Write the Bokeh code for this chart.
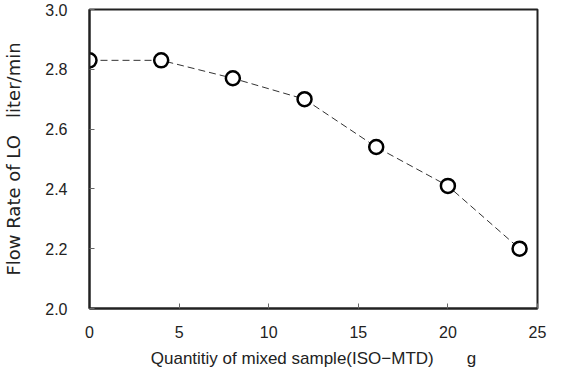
from bokeh.plotting import figure
from bokeh.models import Range1d, FixedTicker, CustomJSTickFormatter
from bokeh.embed import file_html
from bokeh.resources import INLINE

quantity = [0, 4, 8, 12, 16, 20, 24]
flow_rate = [2.83, 2.83, 2.77, 2.70, 2.54, 2.41, 2.20]
x_ticks = [0, 5, 10, 15, 20, 25]
y_ticks = [2.0, 2.2, 2.4, 2.6, 2.8, 3.0]
x_title = "Quantitiy of mixed sample(ISO\u2212MTD)" + "\u00a0" * 7 + "g"
y_title = "Flow Rate of LO" + "\u00a0" * 3 + "liter/min"

FONT = "Liberation Sans"

p = figure(width=548, height=371, output_backend="svg", toolbar_location=None,
           x_range=Range1d(0, 25), y_range=Range1d(2.0, 3.0),
           min_border_left=87, min_border_right=11, min_border_top=9, min_border_bottom=63)

p.line(quantity, flow_rate, line_color="#333333", line_width=1, line_dash="7 4")
p.scatter(quantity, flow_rate, size=14, fill_color="white", line_color="black", line_width=2.5)

p.xgrid.visible = False
p.ygrid.visible = False
p.outline_line_color = "#222222"
p.outline_line_width = 2
p.outline_line_alpha = 1

for ax in (p.xaxis[0], p.yaxis[0]):
    ax.axis_line_color = "#222222"
    ax.axis_line_width = 2
    ax.major_tick_in = 5
    ax.major_tick_out = 0
    ax.major_tick_line_color = "#666666"
    ax.minor_tick_line_color = None
    ax.major_label_text_font = FONT
    ax.major_label_text_font_size = "16px"
    ax.major_label_text_color = "#222222"
    ax.axis_label_text_font_style = "normal"
    ax.axis_label_text_color = "#222222"

p.xaxis.axis_label_text_font = FONT
p.xaxis.axis_label_text_font_size = "17px"
p.yaxis.axis_label_text_font = "DejaVu Sans"
p.yaxis.axis_label_text_font_size = "18px"

p.xaxis.ticker = FixedTicker(ticks=x_ticks)
p.yaxis.ticker = FixedTicker(ticks=y_ticks)
p.yaxis.formatter = CustomJSTickFormatter(code="return tick.toFixed(1);")

p.xaxis.major_label_standoff = 17
p.yaxis.major_label_standoff = 22
p.xaxis.axis_label = x_title
p.yaxis.axis_label = y_title
p.xaxis.axis_label_standoff = 8
p.yaxis.axis_label_standoff = 18

open("out.html", "w").write(file_html(p, INLINE))
